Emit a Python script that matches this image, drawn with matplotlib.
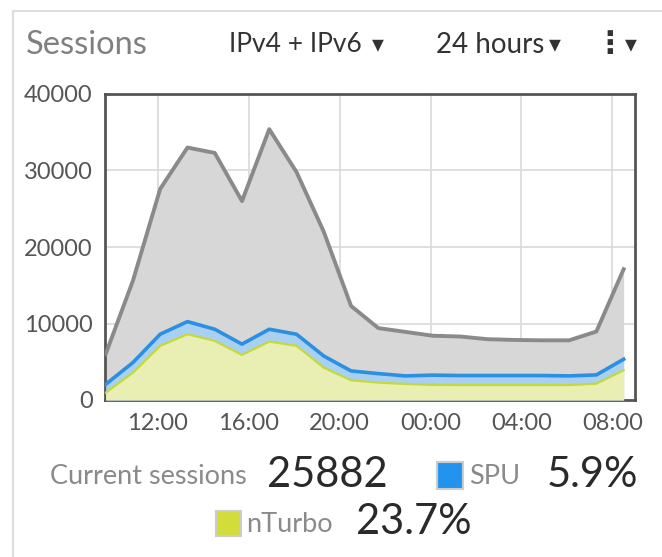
import numpy as np
import matplotlib.pyplot as plt
from matplotlib.patches import Rectangle
from matplotlib.lines import Line2D

plt.rcParams['font.family'] = ['Lato', 'DejaVu Sans']

# horas desde a meia-noite do primeiro dia
horas = [9.7, 10.9, 12.1, 13.3, 14.5, 15.7, 16.9, 18.1, 19.3, 20.5,
         21.7, 22.9, 24.1, 25.3, 26.5, 27.7, 28.9, 30.1, 31.3, 32.5]
total = [6000, 15600, 27600, 33000, 32300, 26000, 35400, 29800, 22000, 12300,
         9400, 8900, 8400, 8300, 7950, 7850, 7800, 7800, 8950, 17100]
spu = [2050, 4900, 8600, 10250, 9250, 7300, 9250, 8600, 5750, 3800,
       3450, 3150, 3250, 3200, 3200, 3200, 3200, 3150, 3280, 5330]
nturbo = [960, 3580, 7080, 8600, 7730, 5900, 7640, 7080, 4230, 2580,
          2270, 2100, 1970, 1950, 1950, 1950, 1950, 1950, 2140, 3890]

ticks_x = [12, 16, 20, 24, 28, 32]
rotulos_x = ['12:00', '16:00', '20:00', '00:00', '04:00', '08:00']
ticks_y = [0, 10000, 20000, 30000, 40000]

W, H = 662, 557
fig = plt.figure(figsize=(W / 100, H / 100), dpi=100)

def fx(px):
    return px / W

def fy(py):
    return 1 - py / H

ax = fig.add_axes([fx(105), fy(400), fx(635) - fx(105), fy(94) - fy(400)])

ax.fill_between(horas, total, color='#d7d7d7', lw=0, zorder=2)
ax.plot(horas, total, color='#8a8a8a', lw=2.8, zorder=3)
ax.fill_between(horas, spu, color='#a9d0f0', lw=0, zorder=4)
ax.plot(horas, spu, color='#2b90e3', lw=2.6, zorder=5)
ax.fill_between(horas, nturbo, color='#e9efb2', lw=0, zorder=6)
ax.plot(horas, nturbo, color='#c5d93a', lw=1.6, zorder=7)

ax.set_xlim(9.67, 33.0)
ax.set_ylim(0, 40000)
ax.set_xticks(ticks_x)
ax.set_xticklabels(rotulos_x)
ax.set_yticks(ticks_y)
ax.grid(True, color='#d9d9d9', lw=1.2, zorder=0)
ax.set_axisbelow(True)
ax.tick_params(length=0, labelsize=17, labelcolor='#555555', pad=9)
for s in ax.spines.values():
    s.set_color('#555555')
    s.set_linewidth(2)

# moldura do painel
fig.add_artist(Line2D([fx(13), fx(13)], [fy(11), 0], color='#dddddd', lw=1.5))
fig.add_artist(Line2D([fx(13), 1], [fy(11), fy(11)], color='#dddddd', lw=1.5))

# cabeçalho
fig.text(fx(26), fy(45), 'Sessions', fontsize=23.5, color='#808080', va='center')
fig.text(fx(229), fy(45), 'IPv4 + IPv6', fontsize=19, color='#333333', va='center')
fig.text(fx(372), fy(44), '▾', fontsize=17, color='#333333', va='center', family='DejaVu Sans')
fig.text(fx(436), fy(45), '24 hours', fontsize=20, color='#333333', va='center')
fig.text(fx(549), fy(44), '▾', fontsize=17, color='#333333', va='center', family='DejaVu Sans')
fig.text(fx(610), fy(44), '⋮', fontsize=22, color='#333333', va='center', ha='center',
         family='DejaVu Sans', weight='bold')
fig.text(fx(625), fy(44), '▾', fontsize=17, color='#333333', va='center', family='DejaVu Sans')

# rodapé
fig.text(fx(50), fy(477), 'Current sessions', fontsize=19.5, color='#8a8a8a', va='center')
fig.text(fx(267), fy(475), '25882', fontsize=30, color='#2a2a2a', va='center')
fig.add_artist(Rectangle((fx(437), fy(489)), fx(26), fy(462) - fy(489),
                         facecolor='#2293ef', edgecolor='#cccccc', lw=1.5))
fig.text(fx(469), fy(477), 'SPU', fontsize=19.5, color='#8a8a8a', va='center')
fig.text(fx(547), fy(475), '5.9%', fontsize=30, color='#2a2a2a', va='center')
fig.add_artist(Rectangle((fx(216), fy(536)), fx(25), fy(511) - fy(536),
                         facecolor='#d2dd3a', edgecolor='#cccccc', lw=1.5))
fig.text(fx(246), fy(524), 'nTurbo', fontsize=19.5, color='#8a8a8a', va='center')
fig.text(fx(356), fy(522), '23.7%', fontsize=30, color='#2a2a2a', va='center')

fig.savefig('out.png', dpi=100)
